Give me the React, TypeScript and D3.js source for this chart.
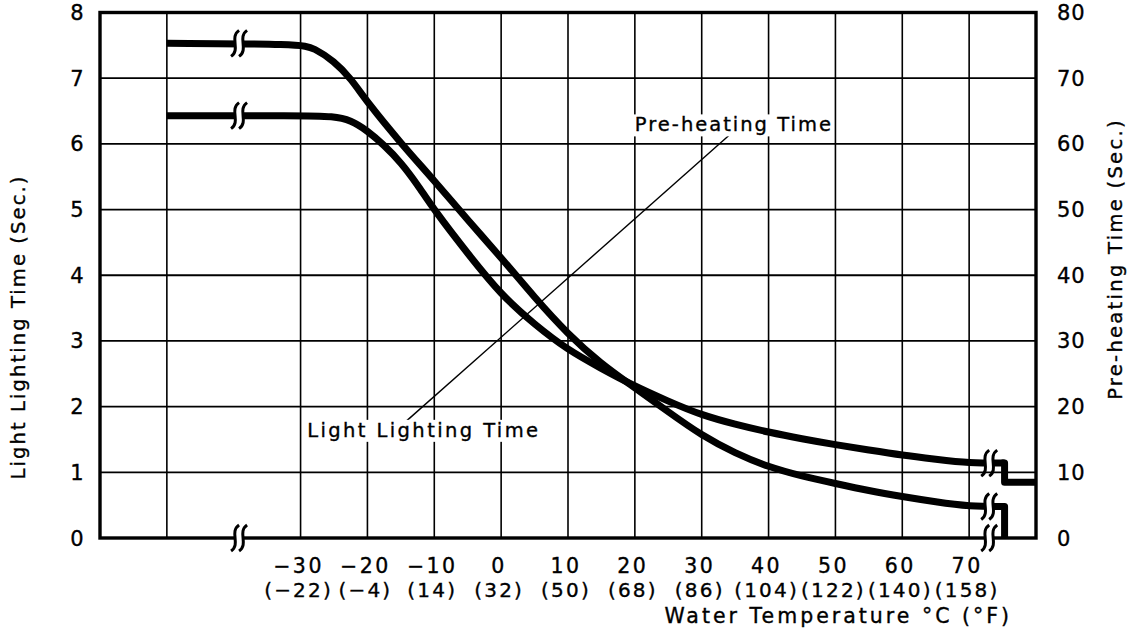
import React, { useEffect, useRef } from "react";
import * as d3 from "d3";

const W = 1132;
const H = 634;

// Axis ticks / labels
const leftTicks = [0, 1, 2, 3, 4, 5, 6, 7, 8];
const rightTicks = [0, 10, 20, 30, 40, 50, 60, 70, 80];
const gridTemps = [-50, -30, -20, -10, 0, 10, 20, 30, 40, 50, 60, 70];
const celsiusTicks = [-30, -20, -10, 0, 10, 20, 30, 40, 50, 60, 70];
const celsiusLabels = ["−30", "−20", "−10", "0", "10", "20", "30", "40", "50", "60", "70"];
const fahrenheitLabels = ["(−22)", "(−4)", "(14)", "(32)", "(50)", "(68)", "(86)", "(104)", "(122)", "(140)", "(158)"];

// Pre-heating time (right axis, seconds)
const preheatTemps = [-50, -30, -28, -25, -22.5, -20, -15, -10, -5, 0, 5, 10, 15, 19, 25, 30, 35, 40, 45, 50, 55, 60, 65, 70, 75.3];
const preheatSec = [75.3, 75.2, 74.6, 72.6, 70.0, 66.3, 60.1, 54.4, 48.4, 42.7, 36.6, 31.0, 26.5, 23.6, 19.2, 15.6, 12.9, 10.8, 9.4, 8.3, 7.2, 6.3, 5.5, 4.8, 4.8];
const preheatEnd = 0;

// Light lighting time (left axis, seconds)
const lightTemps = [-50, -30, -25, -22.5, -20, -17.5, -15, -12.5, -10, -5, 0, 5, 10, 15, 19, 25, 30, 35, 40, 45, 50, 55, 60, 65, 70, 75.3];
const lightSec = [6.43, 6.43, 6.42, 6.36, 6.2, 5.98, 5.72, 5.38, 4.99, 4.33, 3.7, 3.25, 2.86, 2.58, 2.36, 2.08, 1.87, 1.73, 1.61, 1.51, 1.42, 1.34, 1.26, 1.2, 1.14, 1.14];
const lightEnd = 0.85;

// Axis breaks (°C)
const breakLeft = -39.2;
const breakRight = 73;

export default function App() {
  const ref = useRef<SVGSVGElement>(null);

  useEffect(() => {
    const svg = d3.select(ref.current);
    svg.selectAll("*").remove();
    const font = "'DejaVu Sans', sans-serif";
    const textStroke = 0.35;

    const x = d3.scaleLinear().domain([-60, 80]).range([100, 1036]);
    const yL = d3.scaleLinear().domain([0, 8]).range([538, 12.5]);
    const yR = d3.scaleLinear().domain([0, 80]).range([538, 12.5]);

    const [x0, x1] = x.range();
    const [yb, yt] = yL.range();

    // grid
    svg.append("g")
      .selectAll("line")
      .data(leftTicks.slice(1, -1))
      .join("line")
      .attr("x1", x0).attr("x2", x1)
      .attr("y1", (d) => yL(d)).attr("y2", (d) => yL(d))
      .attr("stroke", "#000").attr("stroke-width", 1.8);
    svg.append("g")
      .selectAll("line")
      .data(gridTemps)
      .join("line")
      .attr("x1", (d) => x(d)).attr("x2", (d) => x(d))
      .attr("y1", yt).attr("y2", yb)
      .attr("stroke", "#000").attr("stroke-width", 1.6);

    // frame
    svg.append("rect")
      .attr("x", x0).attr("y", yt)
      .attr("width", x1 - x0).attr("height", yb - yt)
      .attr("fill", "none").attr("stroke", "#000").attr("stroke-width", 3.4);

    // leader line
    svg.append("line")
      .attr("x1", x(-14.4)).attr("y1", yL(1.76))
      .attr("x2", x(34.1)).attr("y2", yL(6.13))
      .attr("stroke", "#000").attr("stroke-width", 1.4);

    // annotation labels with white background
    const addLabel = (text: string, tx: number, ty: number, ls: number) => {
      const gl = svg.append("g");
      const rect = gl.append("rect").attr("fill", "#fff");
      const t = gl.append("text")
        .attr("x", tx).attr("y", ty)
        .attr("font-family", font).attr("font-size", 19.5)
        .attr("letter-spacing", ls)
        .attr("fill", "#000").attr("stroke", "#000").attr("stroke-width", textStroke)
        .text(text);
      const bb = (t.node() as SVGTextElement).getBBox();
      rect.attr("x", bb.x - 3).attr("y", bb.y + 1)
        .attr("width", bb.width + 2).attr("height", bb.height - 1);
    };
    addLabel("Pre-heating Time", x(20), yL(6.19), 2.0);
    addLabel("Light Lighting Time", x(-29), yL(1.54), 2.4);

    // curves
    const lineL = d3.line<number>()
      .x((_, i) => x(lightTemps[i]))
      .y((d) => yL(d))
      .curve(d3.curveBasis);
    const lineR = d3.line<number>()
      .x((_, i) => x(preheatTemps[i]))
      .y((d) => yR(d))
      .curve(d3.curveBasis);

    svg.append("path").attr("d", lineR(preheatSec))
      .attr("fill", "none").attr("stroke", "#000").attr("stroke-width", 7);
    svg.append("path").attr("d", lineL(lightSec))
      .attr("fill", "none").attr("stroke", "#000").attr("stroke-width", 7);

    // end steps
    const stepX = x(preheatTemps[preheatTemps.length - 1]);
    const lastP = preheatSec[preheatSec.length - 1];
    const lastL = lightSec[lightSec.length - 1];
    svg.append("path")
      .attr("d", `M${stepX - 3},${yR(lastP)} L${stepX},${yR(lastP)} L${stepX},${yR(preheatEnd)}`)
      .attr("fill", "none").attr("stroke", "#000").attr("stroke-width", 7).attr("stroke-linejoin", "round");
    svg.append("path")
      .attr("d", `M${stepX - 3},${yL(lastL)} L${stepX},${yL(lastL)} L${stepX},${yL(lightEnd)} L${x1},${yL(lightEnd)}`)
      .attr("fill", "none").attr("stroke", "#000").attr("stroke-width", 7).attr("stroke-linejoin", "round");

    // break marks
    const sPath = (cx: number, cy: number) =>
      `M${cx + 4},${cy - 13} C${cx - 6},${cy - 6} ${cx + 6},${cy + 6} ${cx - 4},${cy + 13}`;
    const drawBreak = (cx: number, cy: number) => {
      const gb = svg.append("g");
      gb.append("rect").attr("x", cx - 4).attr("y", cy - 6).attr("width", 8).attr("height", 12).attr("fill", "#fff");
      [cx - 4, cx + 4].forEach((bx) => {
        gb.append("path").attr("d", sPath(bx, cy))
          .attr("fill", "none").attr("stroke", "#000").attr("stroke-width", 3);
      });
    };
    drawBreak(x(breakLeft), yR(preheatSec[0]));
    drawBreak(x(breakLeft), yL(lightSec[0]));
    drawBreak(x(breakLeft), yb);
    drawBreak(x(breakRight), yR(4.8));
    drawBreak(x(breakRight), yL(lightSec[lightSec.length - 2]));
    drawBreak(x(breakRight), yb);

    // left ticks
    svg.append("g").selectAll("text").data(leftTicks).join("text")
      .attr("x", 77).attr("y", (d) => yL(d) + 7.5)
      .attr("text-anchor", "middle")
      .attr("font-family", font).attr("font-size", 21)
      .attr("stroke", "#000").attr("stroke-width", textStroke)
      .text((d) => String(d));
    // right ticks
    svg.append("g").selectAll("text").data(rightTicks).join("text")
      .attr("x", 1057).attr("y", (d) => yR(d) + 7.5)
      .attr("text-anchor", "start")
      .attr("font-family", font).attr("font-size", 21).attr("letter-spacing", 1)
      .attr("stroke", "#000").attr("stroke-width", textStroke)
      .text((d) => String(d));

    // x tick labels
    svg.append("g").selectAll("text").data(celsiusTicks).join("text")
      .attr("x", (d) => x(d) - 2).attr("y", 573)
      .attr("text-anchor", "middle")
      .attr("font-family", font).attr("font-size", 20.5)
      .attr("letter-spacing", 2.5)
      .attr("stroke", "#000").attr("stroke-width", textStroke)
      .text((_, i) => celsiusLabels[i]);
    svg.append("g").selectAll("text").data(celsiusTicks).join("text")
      .attr("x", (d) => x(d) - 2).attr("y", 597)
      .attr("text-anchor", "middle")
      .attr("font-family", font).attr("font-size", 20)
      .attr("letter-spacing", 2.2)
      .attr("stroke", "#000").attr("stroke-width", textStroke)
      .text((_, i) => fahrenheitLabels[i]);

    // axis titles
    svg.append("text")
      .attr("x", 1012).attr("y", 623)
      .attr("text-anchor", "end")
      .attr("font-family", font).attr("font-size", 20.5)
      .attr("letter-spacing", 3)
      .attr("stroke", "#000").attr("stroke-width", textStroke)
      .text("Water Temperature °C (°F)");
    svg.append("text")
      .attr("transform", `translate(25,327) rotate(-90)`)
      .attr("text-anchor", "middle")
      .attr("font-family", font).attr("font-size", 19.5)
      .attr("letter-spacing", 2.1)
      .attr("stroke", "#000").attr("stroke-width", textStroke)
      .text("Light Lighting Time (Sec.)");
    svg.append("text")
      .attr("transform", `translate(1122,259) rotate(-90)`)
      .attr("text-anchor", "middle")
      .attr("font-family", font).attr("font-size", 19.5)
      .attr("letter-spacing", 2.3)
      .attr("stroke", "#000").attr("stroke-width", textStroke)
      .text("Pre-heating Time (Sec.)");
  }, []);

  return (
    <svg
      ref={ref}
      width={W}
      height={H}
      style={{ position: "absolute", left: 0, top: 0, background: "#fff" }}
    />
  );
}
